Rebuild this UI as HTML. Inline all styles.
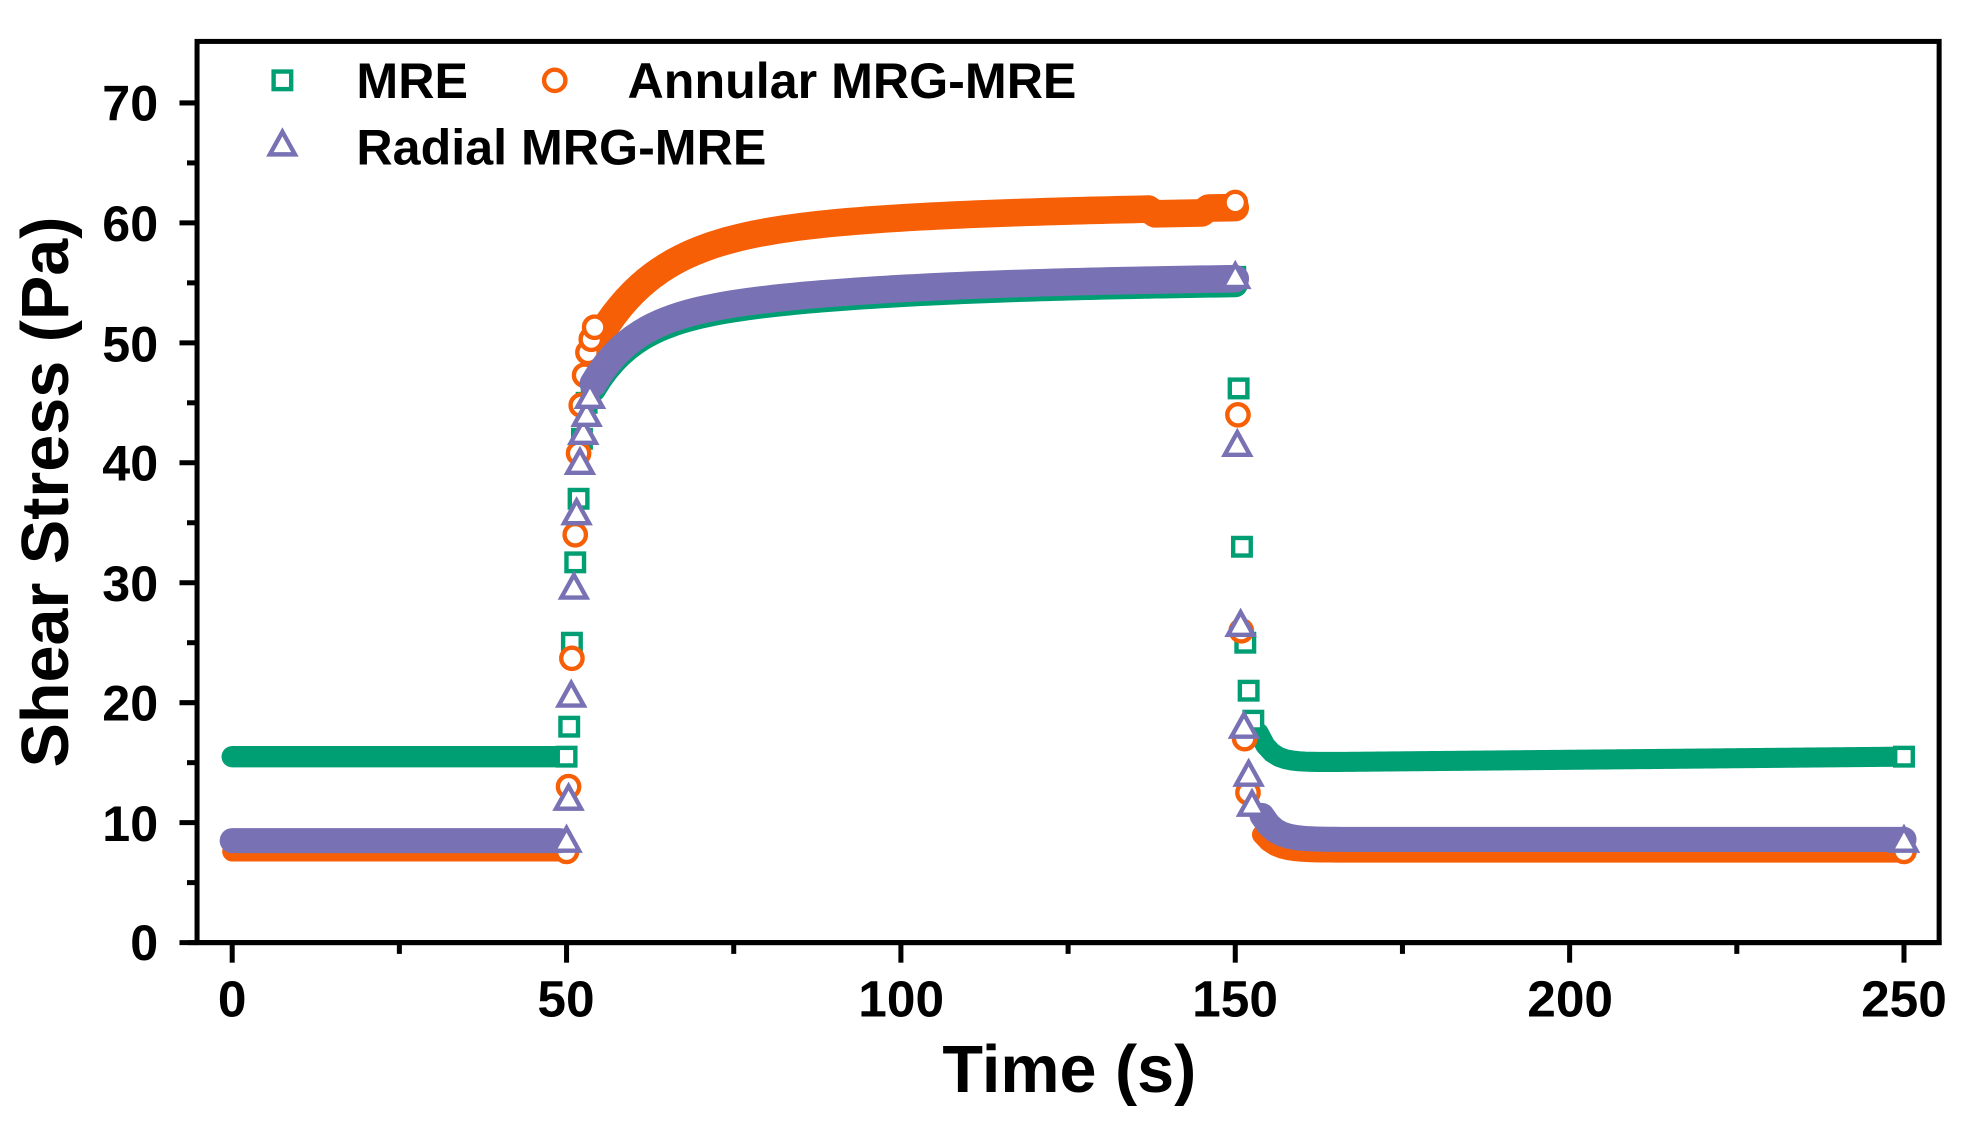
<!DOCTYPE html>
<html><head><meta charset="utf-8"><style>
html,body{margin:0;padding:0;background:#fff;}
svg{display:block;}
text{font-family:"Liberation Sans",Arial,sans-serif;font-weight:bold;fill:#000;}
</style></head><body>
<svg id="s" width="1968" height="1134" viewBox="0 0 1568 903.5" preserveAspectRatio="none" xmlns="http://www.w3.org/2000/svg">
<g id="data"></g>
<rect x="157" y="33" width="1388" height="718" fill="none" stroke="#000" stroke-width="4"/>
<line x1="150" y1="751" x2="1547" y2="751" stroke="#000" stroke-width="4"/>
<g id="ticks" stroke="#000" stroke-width="4"></g>
<g font-size="40" text-anchor="end">
<text x="126" y="765">0</text><text x="126" y="670">10</text><text x="126" y="574">20</text>
<text x="126" y="479">30</text><text x="126" y="383">40</text><text x="126" y="288">50</text>
<text x="126" y="192">60</text><text x="126" y="96">70</text>
</g>
<g font-size="41" text-anchor="middle">
<text x="185" y="810">0</text><text x="451" y="810">50</text><text x="718" y="810">100</text>
<text x="984" y="810">150</text><text x="1251" y="810">200</text><text x="1517" y="810">250</text>
</g>
<text x="852" y="870" font-size="53" text-anchor="middle">Time (s)</text>
<text transform="translate(54,392) rotate(-90)" font-size="53" text-anchor="middle">Shear Stress (Pa)</text>
<rect x="218" y="57" width="14" height="14" fill="none" stroke="#009E73" stroke-width="3.5"/>
<text x="284" y="78" font-size="40">MRE</text>
<circle cx="442" cy="64" r="8.5" fill="none" stroke="#F65F05" stroke-width="3.5"/>
<text x="500" y="78" font-size="40">Annular MRG-MRE</text>
<polygon points="225,105 235,123 215,123" fill="none" stroke="#7872B5" stroke-width="3.5"/>
<text x="284" y="131" font-size="40">Radial MRG-MRE</text>
</svg>
<script>
var NS="http://www.w3.org/2000/svg";
function X(t){return 185+5.328*t;}function Y(v){return 751-9.557*v;}
var d=document.getElementById('data'),tk=document.getElementById('ticks');
function el(n,a,p){var e=document.createElementNS(NS,n);for(var k in a)e.setAttribute(k,a[k]);(p||d).appendChild(e);return e;}
for(var t=0;t<=250;t+=25){var maj=t%50==0;el('line',{x1:X(t),y1:751,x2:X(t),y2:751+(maj?16:9)},tk);}
for(var v=0;v<=70;v+=5){var maj=v%10==0;el('line',{x1:157,y1:Y(v),x2:157-(maj?14:8),y2:Y(v)},tk);}
function band(pts,c,w){el('polyline',{points:pts.map(function(p){return X(p[0])+','+Y(p[1]);}).join(' '),fill:'none',stroke:c,'stroke-width':w,'stroke-linejoin':'round','stroke-linecap':'round'});}
var G='#009E73',O='#F65F05',P='#7872B5';
function mk(type,c,pts){pts.forEach(function(p){var x=X(p[0]),y=Y(p[1]);
 if(type=='s')el('rect',{x:x-7,y:y-7,width:14,height:14,fill:'#fff',stroke:c,'stroke-width':3.5});
 else if(type=='c')el('circle',{cx:x,cy:y,r:8.5,fill:'#fff',stroke:c,'stroke-width':3.5});
 else el('polygon',{points:(x)+','+(y-10)+' '+(x+10)+','+(y+8)+' '+(x-10)+','+(y+8),fill:'#fff',stroke:c,'stroke-width':3.5});});}
function pr(t){return 55.6-5*Math.exp(-(t-54)/6)-4*Math.exp(-(t-54)/35);}
// MRE
band([[0,15.5],[49,15.5]],G,17);
var gm=[];for(var t=54;t<=150;t++){gm.push([t,pr(t)-0.5]);}
band(gm,G,20);
var gd=[];for(var t=153.5;t<=250;t++){gd.push([t,15+2.5*Math.exp(-(t-153.5)/1.8)+0.5*(t-154)/96]);}
band(gd,G,16);
mk('s',G,[[50,15.5],[50.4,18],[50.8,25],[51.3,31.7],[51.8,37],[52.3,42],[53,45],[150,55.5],[150.5,46.2],[151,33],[151.5,25],[152,21],[152.7,18.5],[250,15.5]]);
// Annular
band([[0,7.6],[49,7.6]],O,16);
var om=[];for(var t=55;t<=150;t++){var v=61.6-7.5*Math.exp(-(t-55)/9)-3.5*Math.exp(-(t-55)/40);if(t>137&&t<146)v-=0.4;om.push([t,v]);}
band(om,O,22);
var od=[];for(var t=154;t<=250;t++){od.push([t,7.5+1.5*Math.exp(-(t-154)/2)]);}
band(od,O,16);
mk('c',O,[[50,7.6],[50.3,13],[50.8,23.7],[51.3,34],[51.8,40.8],[52.2,44.8],[52.7,47.3],[53.2,49.2],[53.7,50.3],[54.2,51.3],[150,61.7],[150.4,44],[150.9,26],[151.4,17],[151.9,12.5],[250,7.6]]);
// Radial
band([[0,8.5],[49,8.5]],P,20);
var pm=[];for(var t=54;t<=150;t++){pm.push([t,pr(t)]);}
band(pm,P,22);
var pd=[];for(var t=154;t<=250;t++){pd.push([t,8.6+2*Math.exp(-(t-154)/2)]);}
band(pd,P,20);
mk('t',P,[[50,8.5],[50.3,12],[50.7,20.6],[51.1,29.6],[51.5,35.8],[52,40],[52.5,42.5],[53,44],[53.5,45.5],[150,55.5],[150.3,41.5],[150.8,26.5],[151.3,18],[152,14],[152.5,11.5],[250,8.5]]);
</script>
</body></html>
